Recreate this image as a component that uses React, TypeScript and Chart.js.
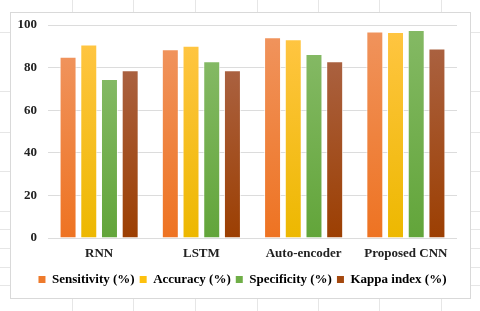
import React, { useEffect, useRef } from "react";
import { Chart, registerables } from "chart.js";

Chart.register(...registerables);

const categories = ["RNN", "LSTM", "Auto-encoder", "Proposed CNN"];
const seriesNames = ["Sensitivity (%)", "Accuracy (%)", "Specificity (%)", "Kappa index (%)"];
const sensitivity = [85.1, 88.6, 94.2, 96.9];
const accuracy = [90.9, 90.3, 93.3, 96.7];
const specificity = [74.6, 83.0, 86.4, 97.7];
const kappa = [78.7, 78.7, 83.0, 89.0];
const yTicks = [0, 20, 40, 60, 80, 100];

const topColors = ["#F0935C", "#FFC541", "#84B964", "#AA6140"];
const bottomColors = ["#EE7322", "#EDB800", "#62A53A", "#9C3F02"];
const legendColors = ["#EE7A2C", "#FDC10E", "#6FAE47", "#A4480E"];

const FONT = "'Liberation Serif', 'Times New Roman', serif";

const frame = {
  id: "frame",
  afterLayout(chart: any) {
    if (chart.legend) {
      chart.legend.left += 9;
      chart.legend.right += 9;
    }
  },
  beforeDraw(chart: any) {
    const ctx = chart.ctx;
    ctx.save();
    ctx.fillStyle = "#ffffff";
    ctx.fillRect(0, 0, chart.width, chart.height);
    ctx.strokeStyle = "#E6E6E6";
    ctx.lineWidth = 1;
    const xs = [72, 133, 195, 257, 318, 379, 441];
    const ys = [32, 91, 132, 171, 211, 229, 248, 267, 285];
    ctx.beginPath();
    xs.forEach((x) => {
      ctx.moveTo(x + 0.5, 0);
      ctx.lineTo(x + 0.5, 12);
      ctx.moveTo(x + 0.5, 298);
      ctx.lineTo(x + 0.5, 311);
    });
    ys.forEach((y) => {
      ctx.moveTo(0, y + 0.5);
      ctx.lineTo(10, y + 0.5);
      ctx.moveTo(470, y + 0.5);
      ctx.lineTo(480, y + 0.5);
    });
    ctx.stroke();
    ctx.strokeStyle = "#D9D9D9";
    ctx.strokeRect(10.5, 12.5, 460, 286);
    ctx.restore();
  },
};

function gradientFor(i: number) {
  return (context: any) => {
    const chart = context.chart;
    const area = chart.chartArea;
    if (!area || context.parsed == null || context.type !== "data") return bottomColors[i];
    const yScale = chart.scales.y;
    const top = yScale.getPixelForValue(context.parsed.y);
    const base = yScale.getPixelForValue(0);
    if (!isFinite(top) || !isFinite(base) || top === base) return bottomColors[i];
    const g = chart.ctx.createLinearGradient(0, top, 0, base);
    g.addColorStop(0, topColors[i]);
    g.addColorStop(1, bottomColors[i]);
    return g;
  };
}

export default function App() {
  const ref = useRef<HTMLCanvasElement | null>(null);
  useEffect(() => {
    if (!ref.current) return;
    const data = [sensitivity, accuracy, specificity, kappa];
    const chart = new Chart(ref.current, {
      type: "bar",
      data: {
        labels: categories,
        datasets: seriesNames.map((name, i) => ({
          label: name,
          data: data[i],
          backgroundColor: gradientFor(i),
          borderColor: "rgba(255,255,255,0.75)",
          borderWidth: 1,
          categoryPercentage: 0.81,
          barPercentage: 0.82,
        })),
      },
      options: {
        responsive: false,
        animation: false,
        events: [],
        layout: { padding: { left: 10, right: 23, top: 25, bottom: 15 } },
        plugins: {
          tooltip: { enabled: false },
          legend: {
            position: "bottom",
            labels: {
              boxWidth: 7,
              boxHeight: 7,
              padding: 5,
              color: "#222222",
              font: { family: FONT, size: 13, weight: "bold" },
              generateLabels: () =>
                seriesNames.map((name, i) => ({
                  text: name,
                  fillStyle: legendColors[i],
                  strokeStyle: legendColors[i],
                  lineWidth: 0,
                  hidden: false,
                  datasetIndex: i,
                })),
            },
          },
        },
        scales: {
          x: {
            grid: { display: false, drawTicks: false },
            border: { display: false },
            ticks: {
              padding: 8,
              color: "#222222",
              font: { family: FONT, size: 13, weight: "bold" },
            },
            afterFit: (s: any) => {
              s.height = 30;
            },
          },
          y: {
            min: 0,
            max: 100,
            afterBuildTicks: (s: any) => {
              s.ticks = yTicks.map((v) => ({ value: v }));
            },
            grid: { color: "#DCDCDC", drawTicks: false, lineWidth: 1 },
            border: { display: false },
            ticks: {
              padding: 11,
              color: "#222222",
              font: { family: FONT, size: 13, weight: "bold" },
            },
            afterFit: (s: any) => {
              s.width = 38;
            },
          },
        },
      },
      plugins: [frame],
    });
    return () => chart.destroy();
  }, []);
  return (
    <div style={{ position: "fixed", left: 0, top: 0, width: 480, height: 311, background: "#fff" }}>
      <canvas ref={ref} width={480} height={311} style={{ display: "block" }} />
    </div>
  );
}
